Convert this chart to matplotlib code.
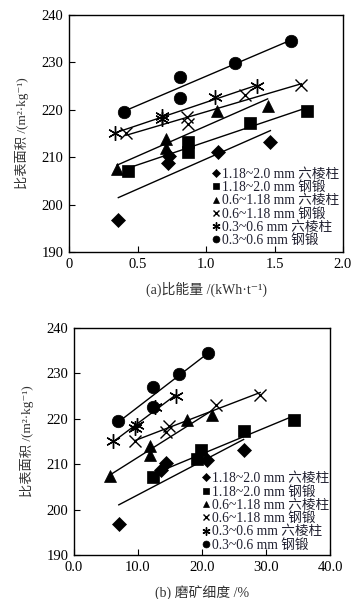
import numpy as np
import matplotlib
matplotlib.use("Agg")
import matplotlib.pyplot as plt

plt.rcParams['font.family'] = ['Liberation Serif', 'Noto Sans CJK SC', 'DejaVu Sans']

# series labels
labels = ['1.18~2.0 mm 六棱柱', '1.18~2.0 mm 钢锻', '0.6~1.18 mm 六棱柱',
          '0.6~1.18 mm 钢锻', '0.3~0.6 mm 六棱柱', '0.3~0.6 mm 钢锻']
markers = ['D', 's', '^', 'x', (6, 2, 0), 'o']
msizes = [7.2, 8.5, 8.5, 9, 10.5, 9]

# specific surface area (m2/kg), same for both panels
y_d = [196.8, 208.8, 210.3, 211.0, 213.2]
y_s = [207.1, 211.2, 213.2, 217.3, 219.7]
y_t = [207.5, 212.0, 213.9, 219.8, 220.8]
y_x = [215.1, 217.1, 218.4, 223.1, 225.2]
y_a = [215.2, 218.0, 218.6, 222.7, 225.0]
y_c = [219.6, 222.5, 227.0, 229.8, 234.6]

# (a) specific energy kWh/t
ea_d = [0.36, 0.72, 0.73, 1.09, 1.47]
ea_s = [0.43, 0.87, 0.87, 1.32, 1.74]
ea_t = [0.35, 0.71, 0.71, 1.08, 1.45]
ea_x = [0.415, 0.865, 0.858, 1.283, 1.696]
ea_a = [0.335, 0.68, 0.68, 1.065, 1.375]
ea_c = [0.40, 0.81, 0.81, 1.21, 1.62]

# (b) grinding fineness %
fb_d = [7.0, 13.6, 14.3, 20.8, 26.5]
fb_s = [12.3, 19.2, 19.9, 26.6, 34.3]
fb_t = [5.6, 11.9, 11.8, 17.6, 21.5]
fb_x = [9.5, 14.3, 14.8, 22.2, 29.1]
fb_a = [6.1, 9.6, 9.9, 12.6, 15.9]
fb_c = [6.8, 12.4, 12.4, 16.4, 20.9]

ys = [y_d, y_s, y_t, y_x, y_a, y_c]
xa = [ea_d, ea_s, ea_t, ea_x, ea_a, ea_c]
xb = [fb_d, fb_s, fb_t, fb_x, fb_a, fb_c]

txt_col = '#333333'

fig = plt.figure(figsize=(3.62, 5.99), dpi=100)
ax1 = fig.add_axes([69/362, 1-252/599, 274/362, 237/599])
ax2 = fig.add_axes([74/362, 1-555/599, 256/362, 227/599])


def draw(ax, xs_all, xlim, xticks, xticklabels, xlabel, leg_anchor):
    for xs, yv, m, ms, lab in zip(xs_all, ys, markers, msizes, labels):
        xs = np.array(xs)
        yv = np.array(yv)
        thin = m in ('x', (6, 2, 0))
        # linear fit line
        k, b = np.polyfit(xs, yv, 1)
        xx = np.array([xs.min(), xs.max()])
        ax.plot(xx, k*xx + b, color='black', lw=1.0, zorder=2)
        ax.plot(xs, yv, linestyle='none', marker=m, markersize=ms, color='black',
                markeredgewidth=1.0 if thin else 0.5, zorder=3)
        ax.plot([], [], linestyle='none', marker=m, color='black',
                markersize=ms*0.55, markeredgewidth=1.0 if thin else 0.5,
                label=lab)
    ax.set_xlim(xlim)
    ax.set_ylim(190, 240)
    ax.set_xticks(xticks)
    ax.set_xticklabels(xticklabels)
    ax.set_yticks(range(190, 241, 10))
    ax.tick_params(direction='in', length=4, width=0.8, labelsize=10.5, pad=4)
    for sp in ax.spines.values():
        sp.set_linewidth(1.0)
    ax.set_xlabel(xlabel, fontsize=10, color=txt_col, labelpad=8)
    ax.set_ylabel('比表面积 /(m²·kg⁻¹)', fontsize=9.5, color=txt_col, labelpad=9)
    leg = ax.legend(loc='lower left', bbox_to_anchor=leg_anchor, frameon=False,
                    fontsize=9.8, handlelength=0.6, handletextpad=0.15,
                    labelspacing=0.02, borderpad=0, borderaxespad=0)
    for t in leg.get_texts():
        t.set_color('#202030')


draw(ax1, xa, (0, 2.0), [0, 0.5, 1.0, 1.5, 2.0], ['0', '0.5', '1.0', '1.5', '2.0'],
     '(a)比能量 /(kWh·t⁻¹)', (0.52, 0.02))
draw(ax2, xb, (0, 40), [0, 10, 20, 30, 40], ['0.0', '10.0', '20.0', '30.0', '40.0'],
     '(b) 磨矿细度 /%', (0.5, 0.015))

fig.savefig('out.png', dpi=100)
